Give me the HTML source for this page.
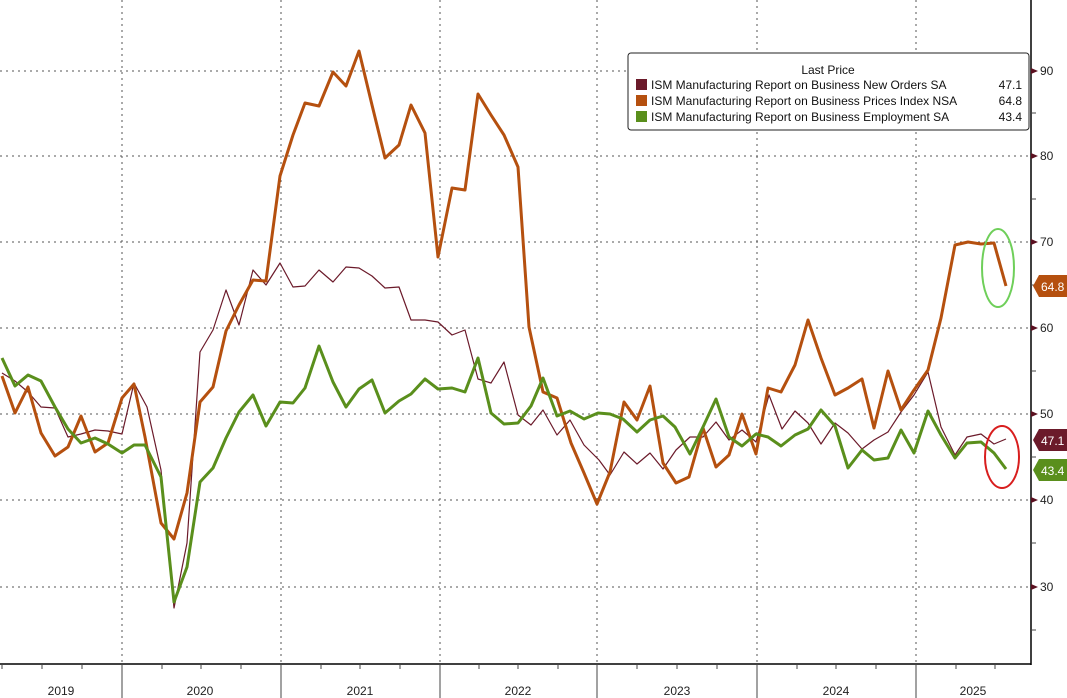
<!DOCTYPE html>
<html><head><meta charset="utf-8"><style>
body{margin:0;background:#fff;}
svg{display:block;font-family:"Liberation Sans","DejaVu Sans",sans-serif;}
</style></head><body>
<svg width="1067" height="698" viewBox="0 0 1067 698" xmlns="http://www.w3.org/2000/svg">
<rect width="1067" height="698" fill="#fff"/>
<g stroke="#555" stroke-width="1" stroke-dasharray="2,4">
<line x1="0" y1="71" x2="1031" y2="71"/>
<line x1="0" y1="156" x2="1031" y2="156"/>
<line x1="0" y1="242" x2="1031" y2="242"/>
<line x1="0" y1="328" x2="1031" y2="328"/>
<line x1="0" y1="414" x2="1031" y2="414"/>
<line x1="0" y1="500" x2="1031" y2="500"/>
<line x1="0" y1="587" x2="1031" y2="587"/>
<line x1="122" y1="0" x2="122" y2="664"/>
<line x1="281" y1="0" x2="281" y2="664"/>
<line x1="440" y1="0" x2="440" y2="664"/>
<line x1="597" y1="0" x2="597" y2="664"/>
<line x1="757" y1="0" x2="757" y2="664"/>
<line x1="916" y1="0" x2="916" y2="664"/>
</g>
<g stroke="#000" stroke-width="1.5">
<line x1="1031" y1="0" x2="1031" y2="665"/>
<line x1="0" y1="664" x2="1031" y2="664"/>
</g>
<g stroke="#444" stroke-width="1">
<line x1="122" y1="664" x2="122" y2="698"/><line x1="281" y1="664" x2="281" y2="698"/><line x1="440" y1="664" x2="440" y2="698"/><line x1="597" y1="664" x2="597" y2="698"/><line x1="757" y1="664" x2="757" y2="698"/><line x1="916" y1="664" x2="916" y2="698"/>
<line x1="2" y1="664" x2="2" y2="669"/><line x1="42" y1="664" x2="42" y2="669"/><line x1="82" y1="664" x2="82" y2="669"/>
<line x1="162" y1="664" x2="162" y2="669"/><line x1="201" y1="664" x2="201" y2="669"/><line x1="241" y1="664" x2="241" y2="669"/>
<line x1="321" y1="664" x2="321" y2="669"/><line x1="360" y1="664" x2="360" y2="669"/><line x1="400" y1="664" x2="400" y2="669"/>
<line x1="479" y1="664" x2="479" y2="669"/><line x1="518" y1="664" x2="518" y2="669"/><line x1="558" y1="664" x2="558" y2="669"/>
<line x1="637" y1="664" x2="637" y2="669"/><line x1="677" y1="664" x2="677" y2="669"/><line x1="717" y1="664" x2="717" y2="669"/>
<line x1="797" y1="664" x2="797" y2="669"/><line x1="836" y1="664" x2="836" y2="669"/><line x1="876" y1="664" x2="876" y2="669"/>
<line x1="956" y1="664" x2="956" y2="669"/><line x1="995" y1="664" x2="995" y2="669"/>
<line x1="1031" y1="113" x2="1036" y2="113"/><line x1="1031" y1="199" x2="1036" y2="199"/><line x1="1031" y1="285" x2="1036" y2="285"/><line x1="1031" y1="371" x2="1036" y2="371"/><line x1="1031" y1="457" x2="1036" y2="457"/><line x1="1031" y1="543" x2="1036" y2="543"/><line x1="1031" y1="630" x2="1036" y2="630"/>
</g>
<g fill="#222" font-size="12">
<text x="61" y="695" text-anchor="middle">2019</text>
<text x="200" y="695" text-anchor="middle">2020</text>
<text x="360" y="695" text-anchor="middle">2021</text>
<text x="518" y="695" text-anchor="middle">2022</text>
<text x="677" y="695" text-anchor="middle">2023</text>
<text x="836" y="695" text-anchor="middle">2024</text>
<text x="973" y="695" text-anchor="middle">2025</text>
</g>
<g fill="#222" font-size="12">
<path d="M1031,68 L1038,71 L1031,74Z" fill="#5a1020"/><text x="1040" y="75">90</text>
<path d="M1031,153 L1038,156 L1031,159Z" fill="#5a1020"/><text x="1040" y="160">80</text>
<path d="M1031,239 L1038,242 L1031,245Z" fill="#5a1020"/><text x="1040" y="246">70</text>
<path d="M1031,325 L1038,328 L1031,331Z" fill="#5a1020"/><text x="1040" y="332">60</text>
<path d="M1031,411 L1038,414 L1031,417Z" fill="#5a1020"/><text x="1040" y="418">50</text>
<path d="M1031,497 L1038,500 L1031,503Z" fill="#5a1020"/><text x="1040" y="504">40</text>
<path d="M1031,584 L1038,587 L1031,590Z" fill="#5a1020"/><text x="1040" y="591">30</text>
</g>
<!-- New Orders -->
<polyline fill="none" stroke="#6b1a2a" stroke-width="1.2" stroke-linejoin="round" points="2,373 15,381 28,392 41,407 55,408 68,437 81,434 95,430 108,431 122,434 134,383 147,407 161,470 174,608 187,543 200,352 213,330 226,290 239,325 253,270 266,285 280,263 293,287 305,286 319,270 333,282 346,267 359,268 372,276 385,288 399,287 411,320 425,320 438,322 452,335 465,330 478,379 491,383 504,362 518,415 531,425 543,410 557,435 570,420 584,445 599,460 610,475 624,452 637,464 650,453 663,469 676,450 690,437 703,437 716,422 729,440 742,430 756,442 769,395 782,429 795,411 808,423 821,444 835,423 848,433 862,449 874,440 888,432 901,412 914,395 928,372 941,427 955,455 967,437 981,434 994,444 1006,439"/>
<!-- Prices -->
<polyline fill="none" stroke="#b5500f" stroke-width="3" stroke-linejoin="round" points="2,376 15,413 28,387 41,433 55,456 68,447 81,416 95,452 108,443 122,398 134,384 145,437 161,523 174,539 187,493 200,402 213,387 226,331 239,305 253,280 266,281 280,176 293,135 305,103 319,106 333,72 346,86 359,51 372,105 385,158 399,145 411,105 425,133 438,257 452,188 465,190 478,94 491,115 504,135 518,167 529,327 543,392 557,398 571,443 584,473 597,504 610,472 624,402 637,420 650,386 663,463 676,483 689,477 703,428 716,467 729,455 742,414 756,454 768,388 781,392 795,365 808,320 821,358 835,395 848,388 862,379 874,428 888,371 901,410 914,390 928,370 941,318 955,245 968,242 981,244 994,243 1006,286"/>
<!-- Employment -->
<polyline fill="none" stroke="#5a8f1c" stroke-width="3" stroke-linejoin="round" points="2,358 15,386 28,375 41,381 55,407 68,429 81,443 95,438 108,444 122,453 134,445 145,445 161,477 174,602 187,567 200,482 213,468 226,438 239,412 253,395 266,426 280,402 293,403 305,388 319,346 333,382 346,407 359,389 372,380 385,413 399,401 411,394 425,379 438,389 452,388 465,392 478,358 491,413 504,424 518,423 531,406 543,378 557,416 570,411 584,419 598,413 610,414 623,419 637,432 650,420 663,416 675,427 690,454 703,427 716,399 729,437 742,446 756,434 768,437 781,446 795,435 808,429 821,410 835,426 848,468 862,450 874,460 888,458 901,430 914,453 928,411 941,435 955,458 967,443 981,442 994,453 1006,469"/>
<ellipse cx="998" cy="268" rx="16" ry="39" fill="none" stroke="#6fcf5a" stroke-width="2"/>
<ellipse cx="1002" cy="457" rx="17" ry="31" fill="none" stroke="#d81e1e" stroke-width="2"/>
<!-- value tags -->
<path d="M1033,286 L1039,275 L1067,275 L1067,297 L1039,297Z" fill="#b5500f"/>
<text x="1041" y="291" fill="#fff" font-size="12">64.8</text>
<path d="M1033,440 L1039,429 L1067,429 L1067,451 L1039,451Z" fill="#6b1a2a"/>
<text x="1041" y="445" fill="#fff" font-size="12">47.1</text>
<path d="M1033,470 L1039,459 L1067,459 L1067,481 L1039,481Z" fill="#5a8f1c"/>
<text x="1041" y="475" fill="#fff" font-size="12">43.4</text>
<!-- legend -->
<rect x="628" y="53" width="401" height="77" rx="3" fill="#fff" stroke="#222" stroke-width="1"/>
<text x="828" y="74" text-anchor="middle" font-size="12" fill="#111">Last Price</text>
<rect x="636" y="79" width="11" height="11" fill="#6b1a2a"/>
<rect x="636" y="95" width="11" height="11" fill="#b5500f"/>
<rect x="636" y="111" width="11" height="11" fill="#5a8f1c"/>
<g font-size="12" fill="#111">
<text x="651" y="89">ISM Manufacturing Report on Business New Orders SA</text>
<text x="651" y="105">ISM Manufacturing Report on Business Prices Index NSA</text>
<text x="651" y="121">ISM Manufacturing Report on Business Employment SA</text>
<text x="1022" y="89" text-anchor="end">47.1</text>
<text x="1022" y="105" text-anchor="end">64.8</text>
<text x="1022" y="121" text-anchor="end">43.4</text>
</g>
</svg>
</body></html>
